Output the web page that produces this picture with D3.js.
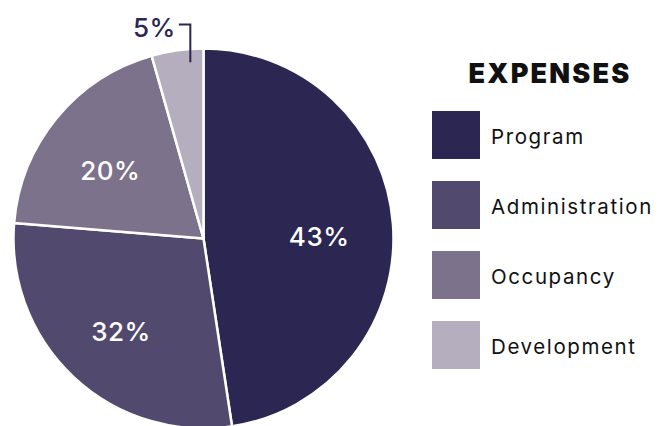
<!DOCTYPE html>
<html>
<head>
<meta charset="utf-8">
<script src="https://cdn.jsdelivr.net/npm/d3@7/dist/d3.min.js"></script>
<style>
  html, body { margin: 0; padding: 0; background: #fff; }
  svg { display: block; font-family: "Inter", "Lato", sans-serif; }
</style>
</head>
<body>
<svg id="chart" width="672" height="426"></svg>
<script>
// ---- data ----
const categories = ["Program", "Administration", "Occupancy", "Development"];
const sliceValues = [47.6, 28.7, 19.3, 4.4];          // slice sizes as drawn
const sliceLabels = ["43%", "32%", "20%", "5%"];       // printed labels
const chartTitle = "EXPENSES";

// ---- styles ----
const colors = ["#2b2752", "#524a6e", "#7d728c", "#b4aebf"];

const svg = d3.select("#chart");
const cx = 203.5, cy = 238.5, R = 190;

const data = categories.map((c, i) => ({ cat: c, value: sliceValues[i], label: sliceLabels[i], color: colors[i] }));

const pie = d3.pie().sort(null).value(d => d.value).startAngle(0).endAngle(2 * Math.PI);
const arcs = pie(data);
const arc = d3.arc().innerRadius(0).outerRadius(R);
const labelArc = d3.arc().innerRadius(118).outerRadius(118);

const g = svg.append("g").attr("transform", `translate(${cx},${cy})`);

g.selectAll("path.slice")
  .data(arcs)
  .join("path")
  .attr("class", "slice")
  .attr("d", arc)
  .attr("fill", d => d.data.color)
  .attr("stroke", "#fff")
  .attr("stroke-width", 2.5)
  .attr("stroke-linejoin", "round");

// inside labels (all but the small slice)
g.selectAll("text.inlabel")
  .data(arcs.filter(d => d.data.value >= 10))
  .join("text")
  .attr("class", "inlabel")
  .attr("transform", d => { const c = labelArc.centroid(d); return `translate(${c[0] - 2},${c[1] + 7})`; })
  .attr("text-anchor", "middle")
  .attr("dominant-baseline", "central")
  .attr("fill", "#fff")
  .attr("font-size", 26)
  .attr("font-weight", 500)
  .attr("letter-spacing", 0.5)
  .text(d => d.data.label);

// outside label with leader for small slice
arcs.filter(d => d.data.value < 10).forEach(d => {
  const ang = d.endAngle - 0.27 * (d.endAngle - d.startAngle);
  const r0 = R * 0.93;
  const x0 = r0 * Math.sin(ang), y0 = -r0 * Math.cos(ang);
  const yTop = -R - 24;
  const x1 = x0 - 11.5;
  g.append("path")
    .attr("d", `M${x0},${y0}V${yTop}H${x1}`)
    .attr("fill", "none")
    .attr("stroke", colors[0])
    .attr("stroke-width", 2);
  g.append("text")
    .attr("x", x1 - 3)
    .attr("y", yTop + 2.5)
    .attr("text-anchor", "end")
    .attr("dominant-baseline", "central")
    .attr("fill", colors[0])
    .attr("font-size", 26)
    .attr("font-weight", 500)
    .attr("letter-spacing", 0.5)
    .text(d.data.label);
});

// ---- legend ----
svg.append("text")
  .attr("x", 550)
  .attr("y", 83)
  .attr("text-anchor", "middle")
  .attr("font-size", 27)
  .attr("font-weight", 900)
  .attr("fill", "#111")
  .attr("letter-spacing", 2.2)
  .text(chartTitle);

const legendY = d3.scalePoint().domain(categories).range([111, 321]);
const legend = svg.append("g");
const rows = legend.selectAll("g.row").data(data).join("g")
  .attr("class", "row")
  .attr("transform", d => `translate(432,${legendY(d.cat)})`);
rows.append("rect")
  .attr("width", 48).attr("height", 48)
  .attr("fill", d => d.color);
rows.append("text")
  .attr("x", 59)
  .attr("y", 25)
  .attr("dominant-baseline", "central")
  .attr("font-size", 20.5)
  .attr("fill", "#111")
  .attr("letter-spacing", 1.6)
  .text(d => d.cat);
</script>
</body>
</html>
